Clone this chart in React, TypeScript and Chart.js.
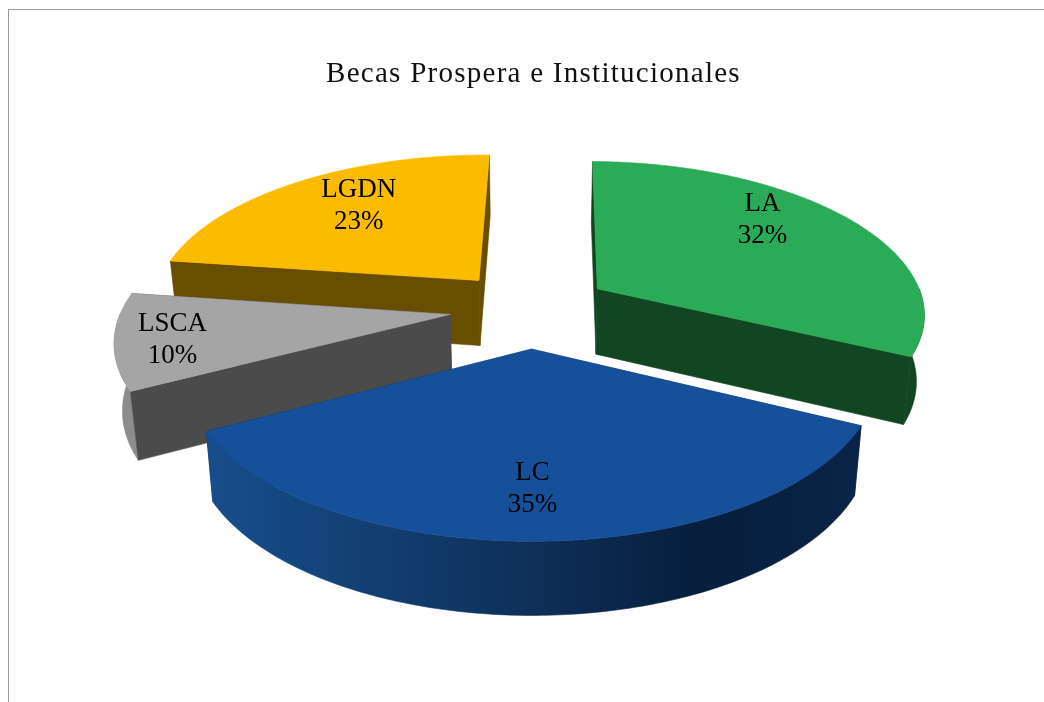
import React, { useEffect, useRef } from "react";
import { Chart, ArcElement, PieController, Title } from "chart.js";

const categories = ["LA", "LC", "LSCA", "LGDN"];
const shares = [32, 35, 10, 23];
const chartTitle = "Becas Prospera e Institucionales";

const topColors = ["#2BAB57", "#16509A", "#A5A5A5", "#FBBC00"];
const wallColors = ["#124522", "#0B2A52", "#4B4B4B", "#674E00"];
const rimColors: (string | string[])[] = [
  "#124522",
  ["#164E8C", "#123F72", "#0E2F58", "#071E3D", "#0A2447"],
  "#8C8C8C",
  "#674E00",
];
const sliceOffsets = [43, 46, 43, 43];
const labelRadius = [0.62, 0.72, 0.88, 0.66];
const labelNudge = [[6, -24], [-4, 8], [17, 2], [4, -8]];

const PROJ = { shift: -3.5, rx: 328, ry: 151, kx: 0.15, ky: 0.145, depth: 66, depthGrow: 0.55, taper: 0.98 };
const FONT = "'Liberation Serif', serif";

function project(cx0: number, cy: number, u: number, v: number, low = false) {
  const cx = cx0 + PROJ.shift;
  const sx = 1 / (1 - PROJ.kx * v);
  const s = 1 / (1 - PROJ.ky * v);
  let x = cx + PROJ.rx * u * sx;
  let y = cy + PROJ.ry * v * s;
  if (low) {
    x = cx + (x - cx) * PROJ.taper;
    y += PROJ.depth * (1 + PROJ.depthGrow * (s - 1));
  }
  return [x, y];
}

function fillPoly(ctx: CanvasRenderingContext2D, pts: number[][], fill: any) {
  ctx.beginPath();
  pts.forEach((p, i) => (i ? ctx.lineTo(p[0], p[1]) : ctx.moveTo(p[0], p[1])));
  ctx.closePath();
  ctx.fillStyle = fill;
  ctx.strokeStyle = fill;
  ctx.lineWidth = 0.6;
  ctx.fill();
  ctx.stroke();
}

class Arc3D extends ArcElement {
  static id = "arc3d";
  sliceIndex = 0;
  draw(ctx: CanvasRenderingContext2D) {
    const { x, y, startAngle, endAngle, outerRadius } = (this as any).getProps([
      "x",
      "y",
      "startAngle",
      "endAngle",
      "outerRadius",
    ]);
    const opts = (this as any).options;
    const mid = (startAngle + endAngle) / 2;
    const e = opts.offset / outerRadius;
    const ou = e * Math.cos(mid);
    const ov = e * Math.sin(mid);
    const at = (a: number, low = false) => project(x, y, ou + Math.cos(a), ov + Math.sin(a), low);
    const apex = (low = false) => project(x, y, ou, ov, low);
    const arcPts = (a0: number, a1: number, low = false) => {
      const n = Math.max(2, Math.ceil(Math.abs(a1 - a0) / 0.015));
      const pts: number[][] = [];
      for (let i = 0; i <= n; i++) pts.push(at(a0 + ((a1 - a0) * i) / n, low));
      return pts;
    };
    const idx = this.sliceIndex;
    const wall = wallColors[idx];
    const cutWall = (a: number) => fillPoly(ctx, [apex(), at(a), at(a, true), apex(true)], wall);
    const startFront = Math.sin(startAngle - Math.PI / 2) > 0;
    const endFront = Math.sin(endAngle + Math.PI / 2) > 0;

    ctx.save();
    if (!startFront) cutWall(startAngle);
    if (!endFront) cutWall(endAngle);

    // Outer rim, only the part that faces the viewer (sin(angle) >= 0)
    let r0 = -Infinity;
    let r1 = -Infinity;
    for (let k = -1; k <= 1; k++) {
      const lo = Math.max(startAngle, 2 * Math.PI * k);
      const hi = Math.min(endAngle, 2 * Math.PI * k + Math.PI);
      if (hi > lo) {
        r0 = lo;
        r1 = hi;
      }
    }
    if (r1 > r0) {
      const upper = arcPts(r0, r1);
      const lower = arcPts(r0, r1, true).reverse();
      const spec = rimColors[idx];
      let fill: any = spec;
      if (Array.isArray(spec)) {
        const g = ctx.createLinearGradient(at(endAngle)[0], 0, at(startAngle)[0], 0);
        const ordered = spec;
        ordered.forEach((c, i) => g.addColorStop(i / (ordered.length - 1), c));
        fill = g;
      }
      fillPoly(ctx, upper.concat(lower), fill);
    }
    if (startFront) cutWall(startAngle);
    if (endFront) cutWall(endAngle);

    fillPoly(ctx, [apex(), ...arcPts(startAngle, endAngle)], opts.backgroundColor);
    ctx.restore();
  }
}

class Pie3D extends PieController {
  static id = "pie3d";
  static defaults = { dataElementType: "arc3d" };
  static overrides = (PieController as any).overrides;
  draw() {
    const ctx = (this as any).chart.ctx;
    const els = (this as any)._cachedMeta.data as any[];
    els.forEach((el, i) => (el.sliceIndex = i));
    const depth = (el: any) => Math.sin((el.startAngle + el.endAngle) / 2);
    [...els].sort((a, b) => depth(a) - depth(b)).forEach((el) => el.draw(ctx));
  }
}

const sliceLabels = {
  id: "sliceLabels",
  beforeDraw(chart: any) {
    chart.ctx.letterSpacing = "1.26px";
  },
  afterDatasetsDraw(chart: any) {
    const ctx = chart.ctx;
    const meta = chart.getDatasetMeta(0);
    ctx.save();
    ctx.letterSpacing = "0px";
    ctx.font = `27px ${FONT}`;
    ctx.fillStyle = "#000";
    ctx.textAlign = "center";
    ctx.textBaseline = "middle";
    meta.data.forEach((el: any, i: number) => {
      const mid = (el.startAngle + el.endAngle) / 2;
      const e = el.options.offset / el.outerRadius + labelRadius[i];
      const p = project(el.x, el.y, e * Math.cos(mid), e * Math.sin(mid));
      const px = p[0] + labelNudge[i][0];
      const py = p[1] + labelNudge[i][1];
      ctx.fillText(categories[i], px, py - 16);
      ctx.fillText(`${shares[i]}%`, px, py + 16);
    });
    ctx.restore();
  },
};

Chart.register(ArcElement, PieController, Title, Arc3D as any, Pie3D as any);

export default function App() {
  const ref = useRef<HTMLCanvasElement>(null);
  useEffect(() => {
    if (!ref.current) return;
    const chart = new Chart(ref.current, {
      type: "pie3d" as any,
      data: {
        labels: categories,
        datasets: [
          {
            data: shares,
            backgroundColor: topColors,
            borderWidth: 0,
            offset: sliceOffsets,
          } as any,
        ],
      },
      options: {
        animation: false,
        responsive: false,
        rotation: 0.8,
        layout: { padding: { left: 14, bottom: 196 } },
        plugins: {
          legend: { display: false },
          tooltip: { enabled: false },
          title: {
            display: true,
            text: chartTitle,
            color: "#111",
            font: { family: FONT, size: 29, weight: "normal" },
            padding: { top: 47, bottom: 18 },
          },
        },
      } as any,
      plugins: [sliceLabels],
    });
    return () => chart.destroy();
  }, []);
  return (
    <div
      style={{
        position: "absolute",
        left: 8,
        top: 9,
        width: 1036,
        height: 693,
        overflow: "hidden",
        background: "#fff",
        borderTop: "1px solid #999",
        borderLeft: "1px solid #999",
      }}
    >
      <canvas ref={ref} width={1035} height={692} style={{ display: "block" }} />
    </div>
  );
}
